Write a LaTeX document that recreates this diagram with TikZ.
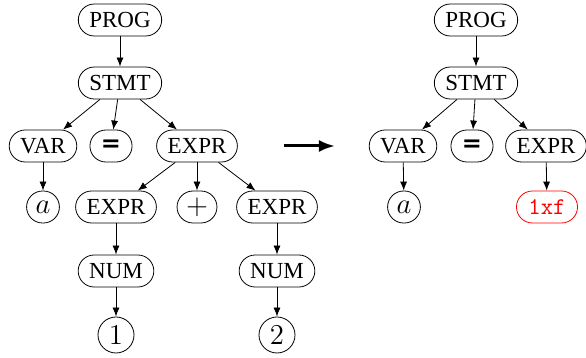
\documentclass[tikz,border=0pt]{standalone}
\usepackage[no-math]{fontspec}
\setmainfont{Liberation Serif}
\newfontfamily\eqfont{DejaVu Sans}
\usepackage{tikz}
\usetikzlibrary{shapes,arrows.meta,positioning}
\tikzstyle{tnode} = [rectangle, draw, rounded corners=8pt, minimum height=16pt,
  minimum width=16pt, inner xsep=5.5pt, inner ysep=2pt]
\tikzstyle{mnode} = [tnode, inner xsep=4.5pt, font=\fontsize{14}{16}\selectfont]
\tikzstyle{leaf} = [circle, draw, minimum size=18pt, inner sep=0pt,
  font=\fontsize{14}{16}\selectfont]
\tikzstyle{arr} = [-{Latex[length=4.5pt,width=3.5pt]}]
\newcommand{\eqsign}{{\fontsize{12}{14}\selectfont\eqfont\bfseries =}}

\begin{document}
\begin{tikzpicture}[x=0.5pt,y=-0.5pt,font=\fontsize{11.5}{13}\selectfont]

    \tikzstyle{bigarr} = [-{Latex[length=8pt,width=6pt]}, line width=1.5pt];

    \useasboundingbox (0,0) rectangle (586,358);

    % before
    \node [tnode] at (120,20) (lprog) {PROG};
    \node [tnode] at (120,83) (lstmt) {STMT};
    \node [tnode] at (43,146) (lvar) {VAR};
    \node [tnode] at (111,146) (leq) {\eqsign};
    \node [tnode] at (197,146) (lexpr) {EXPR};
    \node [mnode] at (43,207) (la) {$a$};
    \node [tnode] at (116,207) (lexprA) {EXPR};
    \node [mnode] at (197,207) (lplus) {$+$};
    \node [tnode] at (277,207) (lexprB) {EXPR};
    \node [tnode] at (116,271) (lnumA) {NUM};
    \node [tnode] at (277,271) (lnumB) {NUM};
    \node [leaf] at (116,335) (lone) {$1$};
    \node [leaf] at (277,335) (ltwo) {$2$};

    \draw [arr] (lprog) -- (lstmt);
    \draw [arr] (lstmt) -- (lvar);
    \draw [arr] (lstmt) -- (leq);
    \draw [arr] (lstmt) -- (lexpr);
    \draw [arr] (lvar) -- (la);
    \draw [arr] (lexpr) -- (lexprA);
    \draw [arr] (lexpr) -- (lplus);
    \draw [arr] (lexpr) -- (lexprB);
    \draw [arr] (lexprA) -- (lnumA);
    \draw [arr] (lexprB) -- (lnumB);
    \draw [arr] (lnumA) -- (lone);
    \draw [arr] (lnumB) -- (ltwo);

    \coordinate (from) at (284,146);
    \coordinate (to) at (335,146);
    \draw [bigarr] (from) -- (to);

    % after
    \node [tnode] at (476,20) (rprog) {PROG};
    \node [tnode] at (476,83) (rstmt) {STMT};
    \node [tnode] at (403,146) (rvar) {VAR};
    \node [tnode] at (472,146) (req) {\eqsign};
    \node [tnode] at (546,146) (rexpr) {EXPR};
    \node [mnode] at (404,207) (ra) {$a$};
    \node [tnode, draw=red, text=red, inner xsep=6pt,
      font=\fontsize{12}{14}\selectfont] at (547,207) (rval) {\texttt{1xf}};

    \draw [arr] (rprog) -- (rstmt);
    \draw [arr] (rstmt) -- (rvar);
    \draw [arr] (rstmt) -- (req);
    \draw [arr] (rstmt) -- (rexpr);
    \draw [arr] (rvar) -- (ra);
    \draw [arr] (rexpr) -- (rval);

\end{tikzpicture}
\end{document}
